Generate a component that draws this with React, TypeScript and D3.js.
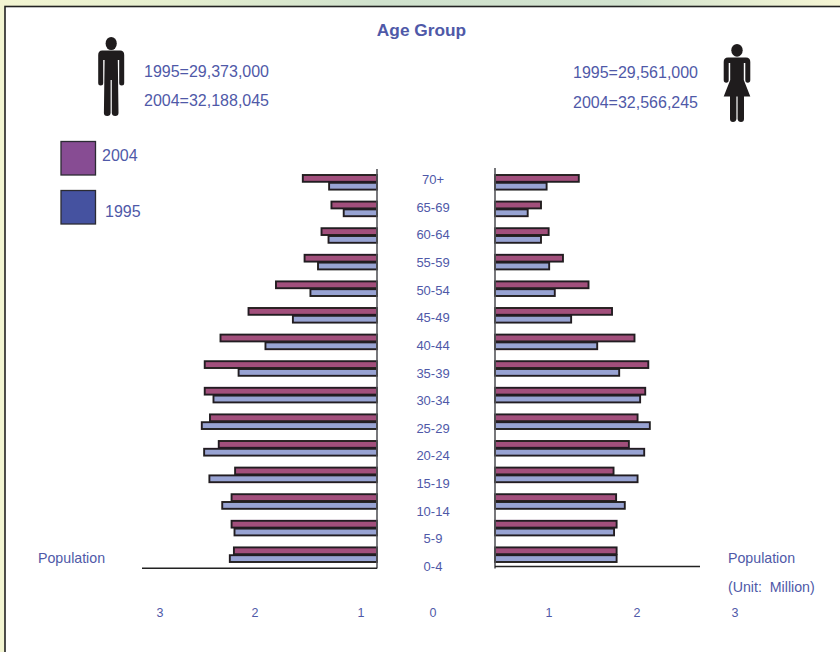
import React from "react";
import * as d3 from "d3";

const W = 840;
const H = 652;
const TEXT = "#4f59a8";
const FONT = "'Liberation Sans', Arial, sans-serif";

const ageGroups = ["70+", "65-69", "60-64", "55-59", "50-54", "45-49", "40-44", "35-39", "30-34", "25-29", "20-24", "15-19", "10-14", "5-9", "0-4"];
const male2004 = [1.27, 0.78, 0.95, 1.24, 1.73, 2.2, 2.68, 2.95, 2.95, 2.86, 2.71, 2.43, 2.49, 2.49, 2.45];
const male1995 = [0.82, 0.57, 0.83, 1.01, 1.14, 1.44, 1.91, 2.37, 2.8, 3.0, 2.96, 2.87, 2.65, 2.44, 2.52];
const female2004 = [1.64, 0.9, 1.05, 1.33, 1.83, 2.29, 2.73, 3.0, 2.94, 2.79, 2.62, 2.32, 2.37, 2.38, 2.38];
const female1995 = [1.01, 0.64, 0.9, 1.06, 1.17, 1.49, 2.0, 2.43, 2.84, 3.03, 2.92, 2.79, 2.54, 2.33, 2.38];
const tickValues = [-3, -2, -1, 0, 1, 2, 3];
const maleTotals = ["1995=29,373,000", "2004=32,188,045"];
const femaleTotals = ["1995=29,561,000", "2004=32,566,245"];
const legendYears = ["2004", "1995"];

const xLeft = d3.scaleLinear().domain([0, 4]).range([377, 377 - 4 * 58.4]);
const xRight = d3.scaleLinear().domain([0, 4]).range([495, 495 + 4 * 51.1]);
const yBand = d3.scaleBand<string>().domain(ageGroups).range([169.2, 568.2]);
const yLabel = d3.scalePoint<string>().domain(ageGroups).range([184, 571]);
const tickX = d3.scaleLinear().domain(tickValues).range([160, 255, 361, 433, 549, 637, 735]);

const BAR_H = 6.8;
const BAR_GAP = 1;

function Bars({ values, x, year, side }: { values: number[]; x: d3.ScaleLinear<number, number>; year: number; side: string }) {
  const fill = year === 2004 ? "#a24f7b" : "#98a3d3";
  return (
    <g>
      {values.map((v, i) => {
        const c = yBand(ageGroups[i])! + yBand.step() / 2;
        const top = year === 2004 ? c - BAR_H - BAR_GAP / 2 - 0.2 : c + BAR_GAP / 2 - 0.2;
        const a = x(0);
        const b = x(v);
        return (
          <rect
            key={side + year + i}
            x={Math.min(a, b)}
            y={top}
            width={Math.abs(b - a)}
            height={BAR_H}
            fill={fill}
            stroke="#231f20"
            strokeWidth={1.9}
            filter="url(#soft)"
          />
        );
      })}
    </g>
  );
}

function Man({ cx, top }: { cx: number; top: number }) {
  return (
    <g transform={`translate(${cx},${top})`} fill="#1f1c1d">
      <ellipse cx={0} cy={6.5} rx={5.6} ry={6.6} />
      <path d="M-9,13.500 Q-13,13.500 -13,18 L-13,46 Q-13,48.500 -10.500,48.500 Q-8,48.500 -8,46 L-8,23 L-6.600,23 L-7.300,76 Q-7.300,79 -4,79 Q-0.800,79 -0.600,76 L-0.600,43 L0.600,43 L0.600,76 Q0.800,79 4,79 Q7.300,79 7.300,76 L6.600,23 L8,23 L8,46 Q8,48.500 10.500,48.500 Q13,48.500 13,46 L13,18 Q13,13.500 9,13.500 Z" />
    </g>
  );
}

function Woman({ cx, top }: { cx: number; top: number }) {
  return (
    <g transform={`translate(${cx},${top})`} fill="#1f1c1d">
      <ellipse cx={0} cy={6.300} rx={5.700} ry={6.400} />
      <path d="M-9,13.500 Q-13.300,13.500 -13.300,18 L-13.300,36 Q-13.300,38.700 -10.700,38.700 Q-8.300,38.700 -8.300,36 L-8.300,19 L-6.800,19 L-6.800,36 L-13.300,52.500 L-7,52.500 L-7,75 Q-7,78 -4,78 Q-1,78 -0.600,75 L-0.600,52.500 L0.600,52.500 L0.600,75 Q1,78 4,78 Q7,78 7,75 L7,52.500 L13.300,52.500 L6.800,36 L6.800,19 L8.300,19 L8.300,36 Q8.300,38.700 10.700,38.700 Q13.300,38.700 13.300,36 L13.300,18 Q13.300,13.500 9,13.500 Z" />
    </g>
  );
}

export default function App() {
  const label = { fontFamily: FONT, fill: TEXT } as const;
  return (
    <svg
      width={W}
      height={H}
      viewBox={`0 0 ${W} ${H}`}
      style={{ position: "fixed", left: 0, top: 0, display: "block" }}
    >
      <defs>
        <linearGradient id="bgGrad" x1="0" x2="1" y1="0" y2="0">
          <stop offset="0" stopColor="#f3f5d2" />
          <stop offset="0.2" stopColor="#e6efcf" />
          <stop offset="0.45" stopColor="#d0e2cd" />
          <stop offset="0.75" stopColor="#d2e3cf" />
          <stop offset="1" stopColor="#f6f6d4" />
        </linearGradient>
        <filter id="soft" x="-5%" y="-40%" width="110%" height="180%">
          <feGaussianBlur in="SourceGraphic" stdDeviation="0.35" />
        </filter>
      </defs>
      <rect x={0} y={0} width={W} height={H} fill="url(#bgGrad)" />
      <rect x={5} y={6.500} width={W} height={H} fill="#fff" stroke="#222" strokeWidth={1.600} />

      <text x={421.500} y={36} textAnchor="middle" fontFamily={FONT} fontSize={17.300} fontWeight={700} fill={TEXT}>Age Group</text>

      <Man cx={111.200} top={37} />
      <Woman cx={737} top={44} />

      {maleTotals.map((t, i) => (
        <text key={t} x={144} y={77 + i * 29} fontSize={16} {...label}>{t}</text>
      ))}
      {femaleTotals.map((t, i) => (
        <text key={t} x={573} y={78 + i * 30} fontSize={16} {...label}>{t}</text>
      ))}

      {legendYears.map((y, i) => (
        <g key={y}>
          <rect
            x={61}
            y={141.500 + i * 49}
            width={34.500}
            height={33.500}
            fill={y === "2004" ? "#874c93" : "#4552a0"}
            stroke="#2b2b33"
            strokeWidth={1.300}
          />
          <text x={102 + i * 3} y={161 + i * 56} fontSize={16} {...label}>{y}</text>
        </g>
      ))}

      <Bars values={male2004} x={xLeft} year={2004} side="m" />
      <Bars values={male1995} x={xLeft} year={1995} side="m" />
      <Bars values={female2004} x={xRight} year={2004} side="f" />
      <Bars values={female1995} x={xRight} year={1995} side="f" />

      <line x1={xLeft(0)} x2={xLeft(0)} y1={169} y2={568.500} stroke="#55565a" strokeWidth={1.600} />
      <line x1={xRight(0)} x2={xRight(0)} y1={168} y2={568.500} stroke="#55565a" strokeWidth={1.600} />
      <line x1={142} x2={xLeft(0)} y1={568.300} y2={568.300} stroke="#222" strokeWidth={1.600} />
      <line x1={xRight(0)} x2={700} y1={566.500} y2={566.500} stroke="#222" strokeWidth={1.600} />

      {ageGroups.map((g) => (
        <text key={g} x={433} y={yLabel(g)} textAnchor="middle" fontSize={13} {...label}>{g}</text>
      ))}
      {tickValues.map((t) => (
        <text key={t} x={tickX(t)} y={617} textAnchor="middle" fontSize={12.500} {...label}>{Math.abs(t)}</text>
      ))}

      <text x={38} y={563} fontSize={14.200} {...label}>Population</text>
      <text x={728} y={563} fontSize={14.200} {...label}>Population</text>
      <text x={728} y={592} fontSize={14.200} style={{ whiteSpace: "pre" }} {...label}>(Unit:  Million)</text>
    </svg>
  );
}
